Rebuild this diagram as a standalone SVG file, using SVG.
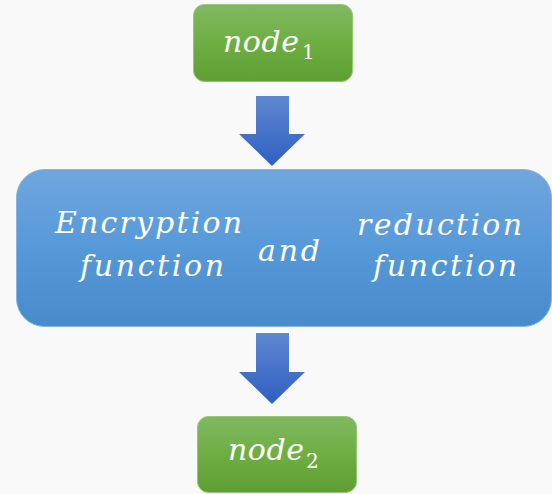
<svg xmlns="http://www.w3.org/2000/svg" width="552" height="494" viewBox="0 0 552 494">
<defs>
<linearGradient id="gGreen" x1="0" y1="0" x2="0" y2="1">
<stop offset="0" stop-color="#80b862"/>
<stop offset="0.5" stop-color="#6daf42"/>
<stop offset="1" stop-color="#5f9e34"/>
</linearGradient>
<linearGradient id="gBlue" x1="0" y1="0" x2="0" y2="1">
<stop offset="0" stop-color="#70a6dd"/>
<stop offset="0.5" stop-color="#5699d9"/>
<stop offset="1" stop-color="#478bcb"/>
</linearGradient>
<linearGradient id="gArrow" x1="0" y1="0" x2="0" y2="1">
<stop offset="0" stop-color="#5f88d2"/>
<stop offset="1" stop-color="#2f5fc0"/>
</linearGradient>
<style>
.green{fill:url(#gGreen);stroke:#94c873;stroke-width:1}
.blue{fill:url(#gBlue);stroke:#86b5e3;stroke-width:1}
.arrow{fill:url(#gArrow)}
.t{font-family:"DejaVu Serif","Liberation Serif",serif;font-style:italic;fill:#ffffff}
.big{font-size:30px}
.sub{font-size:20px;font-style:normal}
</style>
</defs>
<rect x="0" y="0" width="552" height="494" fill="#f9f9f9"/>
<g id="node1">
<rect class="green" x="193.5" y="4.5" width="159" height="77" rx="11"/>
<text class="t big" x="223" y="52" textLength="76" lengthAdjust="spacing">node</text>
<text class="t sub" x="302" y="59">1</text>
</g>
<g id="process">
<rect class="blue" x="16.5" y="169.5" width="535" height="157" rx="28"/>
<text class="t big" x="55" y="233" textLength="187" lengthAdjust="spacing">Encryption</text>
<text class="t big" x="80" y="276" textLength="144" lengthAdjust="spacing">function</text>
<text class="t big" x="258" y="261" textLength="62" lengthAdjust="spacing">and</text>
<text class="t big" x="357" y="235" textLength="165" lengthAdjust="spacing">reduction</text>
<text class="t big" x="373" y="276" textLength="144" lengthAdjust="spacing">function</text>
</g>
<g id="node2">
<rect class="green" x="197.5" y="416.5" width="159" height="76" rx="11"/>
<text class="t big" x="228" y="460" textLength="76" lengthAdjust="spacing">node</text>
<text class="t sub" x="306" y="468">2</text>
</g>
<g id="connectors">
<polygon class="arrow" points="256,96 289,96 289,134 305,134 272,166 239,134 256,134"/>
<polygon class="arrow" points="256,333 289,333 289,372 305,372 272,404 239,372 256,372"/>
</g>
</svg>
